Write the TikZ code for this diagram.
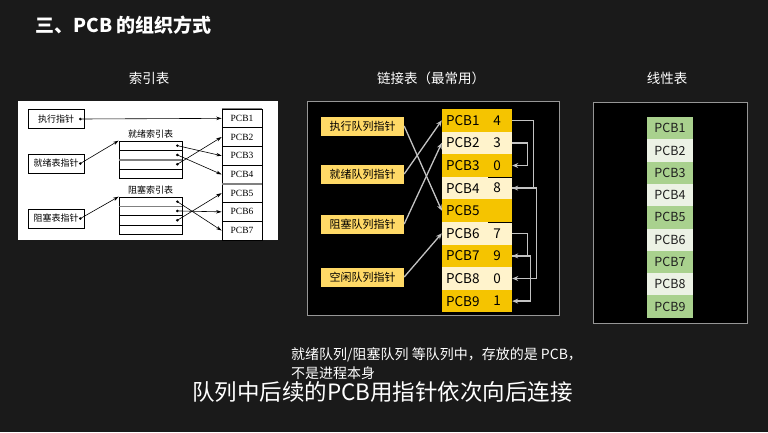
\documentclass[tikz,border=0pt]{standalone}
\usepackage{fontspec}
\setmainfont{Noto Sans CJK SC}
\newfontfamily\timesf{Liberation Serif}
\usetikzlibrary{arrows.meta}
\newcommand\fsz[1]{\fontsize{#1pt}{#1pt}\selectfont}
\definecolor{bgc}{RGB}{26,26,26}
\definecolor{qy}{RGB}{255,217,102}
\definecolor{gold}{RGB}{245,196,0}
\definecolor{cream}{RGB}{255,243,204}
\definecolor{gA}{RGB}{169,209,142}
\definecolor{gB}{RGB}{236,242,229}
\definecolor{garrc}{RGB}{195,195,195}
\definecolor{panelb}{RGB}{150,150,150}
\begin{document}
\begin{tikzpicture}[x=1pt,y=-1pt,
  lbox/.style={draw=black, line width=0.7pt, minimum width=56pt, minimum height=19pt, inner sep=0pt, font=\fsz{9}},
  pcbl/.style={draw=black, line width=0.7pt, minimum width=40pt, minimum height=18.7pt, inner sep=0pt, font=\timesf\fsz{9.5}},
  irow/.style={draw=black, line width=0.7pt, minimum width=63pt, minimum height=9.3pt, inner sep=0pt},
  sarr/.style={-{Stealth[length=5.5pt,width=3.5pt]}, line width=0.6pt, black},
  qbox/.style={fill=qy, text=black, minimum width=83pt, minimum height=19pt, inner sep=0pt, font=\fsz{11}},
  mrow/.style={minimum width=70pt, minimum height=22.6pt, inner sep=0pt},
  mtxt/.style={font=\fsz{13.5}, text=black, inner sep=0pt},
  garr/.style={draw=garrc, line width=1.3pt, -{Stealth[length=6pt,width=5pt]}},
  rrow/.style={minimum width=46pt, minimum height=22.3pt, inner sep=0pt, font=\fsz{12.5}, text={rgb,255:red,30;green,30;blue,30}},
  ttl/.style={text=white, font=\fsz{13.5}},
  panel/.style={draw=panelb, line width=0.8pt, fill=black}
]
\fill[bgc] (0,0) rectangle (768,432);
\useasboundingbox (0,0) rectangle (768,432);

% title
\node[anchor=west, text=white, font=\fsz{19}\bfseries] (title) at (32,25) {三、PCB 的组织方式};

% ===== left: index table =====
\node[ttl] (t1) at (149,78) {索引表};
\fill[white] (18,101) rectangle (278,240);
\node[lbox] (exe) at (56,119) {执行指针};
\node[lbox] (rdp) at (56,163.5) {就绪表指针};
\node[lbox] (blp) at (56,218.5) {阻塞表指针};
\foreach \i/\y in {1/118.35,2/137.05,3/155.75,4/174.45,5/193.15,6/211.85,7/230.55}
  \node[pcbl] (pl\i) at (242,\y) {PCB\i};
\draw[gray, line width=1.4pt] (pl1.north west) -- (pl1.north east);
\draw[gray, line width=1.4pt] (pl4.south west) -- (pl4.south east);
\node[font=\fsz{9}, text=black] (ralbl) at (150.5,134) {就绪索引表};
\node[font=\fsz{9}, text=black] (rblbl) at (150.5,190) {阻塞索引表};
\foreach \i/\y in {1/145.65,2/154.95,3/164.25,4/173.55}
  \node[irow] (ra\i) at (150.5,\y) {};
\foreach \i/\y in {1/201.65,2/210.95,3/220.25,4/229.55}
  \node[irow] (rb\i) at (150.5,\y) {};
\draw[gray, line width=1.3pt] (ra2.south west) -- (ra2.south east);
\draw[gray, line width=1.3pt] (rb1.south west) -- (rb1.south east);
\coordinate (exed) at ([xshift=-4pt]exe.east);
\coordinate (rdpd) at ([xshift=-4pt]rdp.east);
\coordinate (blpd) at ([xshift=-4pt]blp.east);
\foreach \i in {1,2,3} {
  \coordinate (da\i) at ([xshift=-5pt]ra\i.east);
  \coordinate (db\i) at ([xshift=-5pt]rb\i.east);
}
\foreach \c in {exed,rdpd,blpd,da1,da2,da3,db1,db2,db3}
  \fill[black] (\c) circle (1.4pt);
\draw[sarr] (exed) -- (pl1.west);
\draw[sarr] (rdpd) -- (ra1.north west);
\draw[sarr] (blpd) -- (rb1.north west);
\draw[sarr] (da1) -- (pl3.west);
\draw[sarr] (da2) -- (pl4.west);
\draw[sarr] (da3) -- (pl2.west);
\draw[sarr] (db1) -- (pl7.west);
\draw[sarr] (db2) -- (pl6.west);
\draw[sarr] (db3) -- (pl5.west);

% ===== middle: linked table =====
\node[ttl] (t2) at (431,78) {链接表（最常用）};
\draw[panel] (307,101) rectangle (559,315);
\node[qbox] (q1) at (362.5,126) {执行队列指针};
\node[qbox] (q2) at (362.5,174) {就绪队列指针};
\node[qbox] (q3) at (362.5,224) {阻塞队列指针};
\node[qbox] (q4) at (362.5,277) {空闲队列指针};
\foreach \i/\c/\n in {1/gold/4,2/cream/3,3/gold/0,4/cream/8,5/gold/,6/cream/7,7/gold/9,8/cream/0,9/gold/1} {
  \node[mrow, fill=\c] (m\i) at (477,{109+22.6*(\i-0.5)}) {};
  \node[mtxt, anchor=west] (m\i t) at ([xshift=4pt]m\i.west) {PCB\i};
  \node[mtxt] (m\i n) at ([xshift=20pt]m\i.center) {\n};
}
\draw[black, line width=0.8pt] ([xshift=-24pt]m3.south east) -- (m3.south east);
\draw[black, line width=0.8pt] ([xshift=-24pt]m5.south east) -- (m5.south east);
\draw[garr] (q1.east) -- (m5.west);
\draw[garr] (q2.east) -- (m1.west);
\draw[garr] (q3.east) -- (m2.west);
\draw[garr] (q4.east) -- (m6.west);
\draw[garr] (m1.east) -- ++(21,0) |- (m4.east);
\draw[garr] (m2.east) -- ++(15,0) |- (m3.east);
\draw[garr] (m4.east) -- ++(24,0) |- (m8.east);
\draw[garr] (m6.east) -- ++(15,0) |- (m7.east);
\draw[garr] (m7.east) -- ++(18,0) |- (m9.east);

% ===== right: linear table =====
\node[ttl] (t3) at (667,78) {线性表};
\draw[panel] (593,102) rectangle (747,323);
\foreach \i/\c in {1/gA,2/gB,3/gA,4/gB,5/gA,6/gB,7/gA,8/gB,9/gA}
  \node[rrow, fill=\c] (l\i) at (670,{117+22.3*(\i-0.5)}) {PCB\i};

% ===== bottom text =====
\node[anchor=west, text=white, font=\fsz{14}, inner sep=0pt] (note1) at (291,355) {就绪队列/阻塞队列 等队列中，存放的是 PCB，};
\node[anchor=west, text=white, font=\fsz{14}, inner sep=0pt] (note2) at (291,373) {不是进程本身};
\node[text=white, font=\fsz{22.5}, inner sep=0pt] (sub) at (382.5,392) {队列中后续的PCB用指针依次向后连接};
\end{tikzpicture}
\end{document}
